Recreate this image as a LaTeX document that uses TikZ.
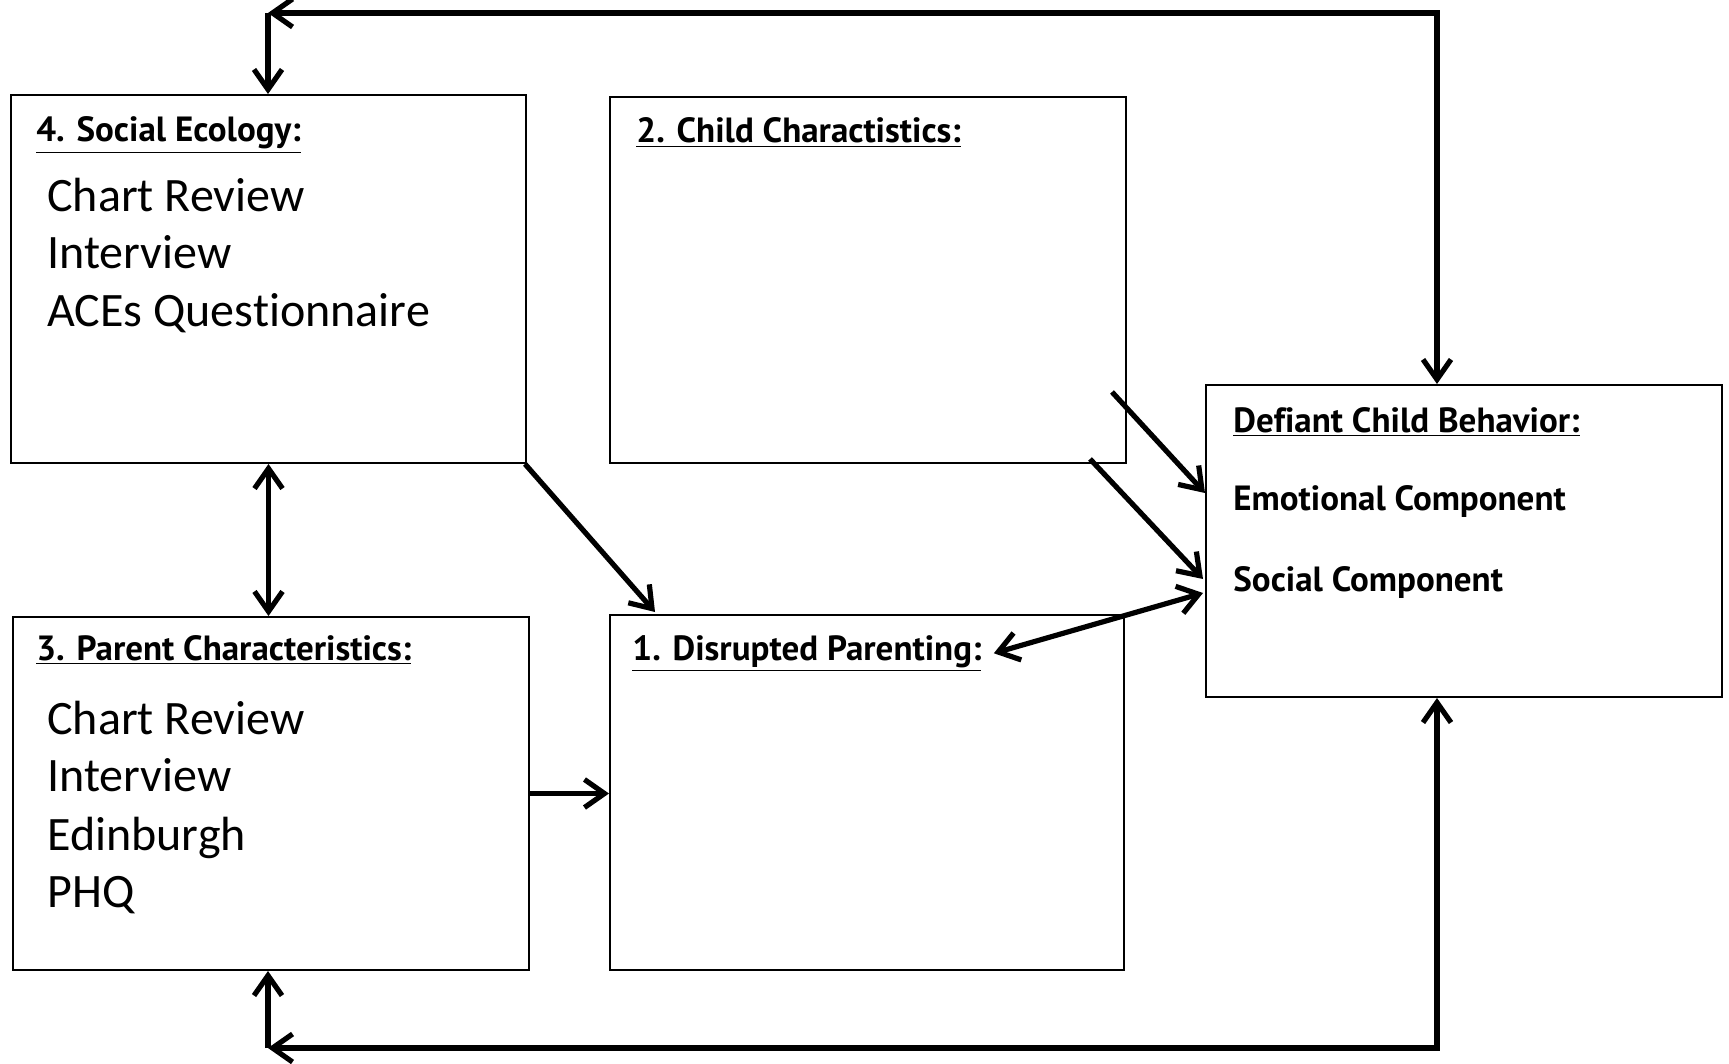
\documentclass[tikz,border=0pt]{standalone}
\usepackage{fontspec}
\setmainfont{Carlito}[Ligatures=NoCommon]
\newfontfamily\headfont{PT Sans}[Ligatures=NoCommon]
\usetikzlibrary{arrows.meta}
\begin{document}
\begin{tikzpicture}[x=0.5pt,y=-0.5pt,
  >={Straight Barb[length=10pt,width=14pt]},
  box/.style={draw=black, line width=1pt, fill=white, inner sep=0pt},
  head/.style={anchor=base west, inner sep=0pt, font=\headfont\bfseries\fontsize{17.5}{21}\selectfont},
  item/.style={anchor=base west, inner sep=0pt, font=\fontsize{24}{29}\selectfont},
  link/.style={line width=2.6pt, line join=miter}]

\useasboundingbox[fill=white] (0,0) rectangle (1729,1064);

% boxes
\node[box, minimum width=257.5pt, minimum height=184pt]   (soc)   at (268.5,279) {};
\node[box, minimum width=258pt,   minimum height=183pt]   (child) at (868,280)   {};
\node[box, minimum width=258pt,   minimum height=176.5pt] (par)   at (271,793.5) {};
\node[box, minimum width=257pt,   minimum height=177.5pt] (dis)   at (867,792.5) {};
\node[box, minimum width=258pt,   minimum height=156pt]   (def)   at (1464,541)  {};

% headings
\node[head] (t4) at (36,142)   {\underline{4. Social Ecology:}};
\node[head] (t2) at (636,143)  {\underline{2. Child Charactistics:}};
\node[head] (t3) at (36,660)   {\underline{3. Parent Characteristics:}};
\node[head] (t1) at (632,660)  {\underline{1. Disrupted Parenting:}};
\node[head] (td) at (1233,432) {\underline{Defiant Child Behavior:}};
\node[head] (de) at (1233,510) {Emotional Component};
\node[head] (ds) at (1233,591) {Social Component};

% measures
\node[item] (s1) at (47,211.5) {Chart Review};
\node[item] (s2) at (47,269)   {Interview};
\node[item] (s3) at (47,326)   {ACEs Questionnaire};
\node[item] (p1) at (47,734)   {Chart Review};
\node[item] (p2) at (47,791.5) {Interview};
\node[item] (p3) at (47,850)   {Edinburgh};
\node[item] (p4) at (47,907)   {PHQ};

% feedback loops
\coordinate (tl) at (268,13);
\coordinate (tr) at (1437,13);
\coordinate (bl) at (268,1048);
\coordinate (br) at (1437,1048);
\draw[link,<->] (tl) -- (tr) -- (tr |- def.north);
\draw[link,->] (tl) -- (tl |- soc.north);
\draw[link,<->] (bl) -- (br) -- (br |- def.south);
\draw[link,->] (bl) -- (bl |- par.south);

% direct paths
\draw[link,<->] (soc.south) -- (soc.south |- par.north);
\draw[link,->] ([xshift=-1pt]soc.south east) -- ([xshift=23pt,yshift=1pt]dis.north west);
\draw[link,->] (par.east) -- (par.east -| dis.west);
\draw[link,->] ([xshift=-7.5pt,yshift=36pt]child.south east) -- ([yshift=24pt]def.west);
\draw[link,->] ([xshift=-18.5pt,yshift=2.5pt]child.south east) -- ([xshift=-1pt,yshift=-19pt]def.west);
\draw[link,<->] ([xshift=6pt]t1.east) -- ([xshift=-1pt,yshift=-26pt]def.west);
\end{tikzpicture}
\end{document}
